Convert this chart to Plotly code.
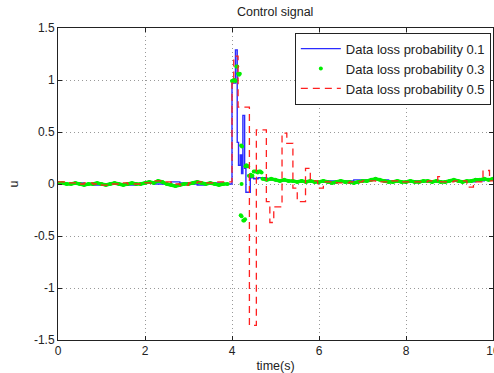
import numpy as np
import plotly.graph_objects as go

# ---------------- data ----------------
# Data loss probability 0.1 (blue, step line)
blue_t_pre = [0.0, 0.2, 0.4, 0.6, 0.8, 1.0, 1.2, 1.4, 1.6, 1.8, 2.0, 2.2, 2.4, 2.6, 2.8, 3.0, 3.2, 3.4, 3.6, 3.8]
blue_u_pre = [0.01, 0.0, 0.01, 0.0, -0.01, 0.0, 0.01, 0.0, -0.01, 0.0, 0.01, 0.0, 0.0, 0.02, 0.01, 0.0, -0.01, 0.0, 0.01, 0.0]
blue_t_tr = [4.0, 4.08, 4.12, 4.15, 4.19, 4.22, 4.25, 4.29, 4.32, 4.42, 4.50, 4.60, 4.80]
blue_u_tr = [0.97, 1.29, 0.40, 0.18, 0.28, 0.10, 0.66, 0.15, -0.08, 0.06, 0.05, 0.06, 0.04]
blue_t_post = [5.0, 5.2, 5.4, 5.6, 5.8, 6.0, 6.2, 6.4, 6.6, 6.8, 7.0, 7.2, 7.4, 7.6, 7.8, 8.0, 8.2, 8.4, 8.6, 8.8,
               9.0, 9.2, 9.4, 9.6, 9.8, 10.0]
blue_u_post = [0.03, 0.03, 0.02, 0.03, 0.02, 0.02, 0.03, 0.02, 0.03, 0.04, 0.04, 0.05, 0.04, 0.03, 0.02, 0.02,
               0.03, 0.02, 0.03, 0.02, 0.03, 0.03, 0.02, 0.03, 0.04, 0.04]

# Data loss probability 0.3 (green, dots)
green_u_pre = [0.01, 0.01, 0.0, 0.0, 0.01, 0.0, -0.01, 0.0, 0.0, 0.01,
               0.0, -0.01, 0.0, 0.01, 0.0, -0.01, 0.0, 0.01, 0.0, 0.0,
               0.01, 0.02, 0.01, 0.03, 0.02, 0.0, -0.01, -0.02, -0.01, 0.0,
               0.0, 0.01, 0.02, 0.01, 0.0, 0.01, 0.0, -0.01, 0.0, 0.0]          # t = 0.0 .. 3.9
green_t_tr = [4.00, 4.02, 4.04, 4.06, 4.08, 4.10, 4.12, 4.14, 4.16, 4.18, 4.21, 4.23, 4.22, 4.20, 4.22,
              4.26, 4.28, 4.30, 4.31, 4.33, 4.35, 4.37, 4.39, 4.41, 4.43, 4.45, 4.47,
              4.50, 4.53, 4.56, 4.59, 4.62, 4.65, 4.68]
green_u_tr = [0.99, 0.99, 1.00, 1.00, 0.99, 1.13, 1.13, 1.06, 1.05, 1.06, 0.37, 0.36, 0.0, -0.30, -0.31,
              -0.35, -0.35, -0.34, 0.17, 0.18, 0.17, 0.17, 0.08, 0.08, 0.09, 0.08, 0.08,
              0.12, 0.12, 0.12, 0.11, 0.12, 0.12, 0.11]
green_u_post = [0.05, 0.04, 0.05, 0.04, 0.03, 0.04, 0.03, 0.03, 0.02, 0.03,
                0.02, 0.03, 0.02, 0.02, 0.03, 0.02, 0.01, 0.02, 0.03, 0.02,
                0.02, 0.01, 0.02, 0.03, 0.03, 0.04, 0.05, 0.04, 0.03, 0.02,
                0.02, 0.03, 0.02, 0.02, 0.03, 0.02, 0.02, 0.03, 0.03, 0.02,
                0.03, 0.02, 0.02, 0.03, 0.04, 0.03, 0.02, 0.03, 0.03, 0.04,
                0.04, 0.05, 0.04, 0.05]                                             # t = 4.7 .. 10.0

# Data loss probability 0.5 (red, dashed step line)
red_t_pre = [0.0, 0.2, 0.4, 0.6, 0.8, 1.0, 1.2, 1.4, 1.6, 1.8, 2.0, 2.2, 2.4, 2.6, 2.8, 3.0, 3.2, 3.4, 3.6, 3.8]
red_u_pre = [0.02, 0.01, 0.0, 0.01, 0.0, -0.01, 0.0, 0.01, 0.0, 0.0, 0.01, 0.03, 0.02, 0.0, -0.01, 0.01, 0.02,
             0.01, 0.02, 0.02]
red_t_tr = [4.0, 4.04, 4.14, 4.40, 4.56, 4.79, 4.87, 4.96, 5.15, 5.26, 5.40, 5.50, 5.69, 5.80, 5.97]
red_u_tr = [0.97, 1.23, 0.74, -1.36, 0.52, -0.17, -0.37, -0.22, 0.49, 0.39, -0.04, -0.17, 0.15, 0.03, -0.04]
red_t_post = [6.1, 6.4, 6.7, 7.0, 7.3, 7.6, 7.9, 8.2, 8.5, 8.73, 8.8, 9.1, 9.4, 9.55, 9.77, 9.92, 10.0]
red_u_post = [0.02, 0.01, 0.02, 0.03, 0.02, 0.03, 0.02, 0.02, 0.03, 0.07, 0.02, 0.03, -0.03, 0.02, 0.13, 0.03, 0.03]

x_ticks = [0, 2, 4, 6, 8, 10]
y_ticks = [-1.5, -1, -0.5, 0, 0.5, 1, 1.5]
y_tick_text = ["-1.5", "-1", "-0.5", "0", "0.5", "1", "1.5"]

# ---------------- figure ----------------
green_t_pre = list(np.round(np.arange(0.0, 3.95, 0.1), 2))
green_t_post = list(np.round(np.arange(4.7, 10.05, 0.1), 2))
green_t = green_t_pre + green_t_tr + green_t_post
green_u = green_u_pre + green_u_tr + green_u_post

FONT = "Liberation Sans, Arial, sans-serif"
GREEN = "#00ee00"
fig = go.Figure()
fig.add_trace(go.Scatter(
    x=blue_t_pre + blue_t_tr + blue_t_post, y=blue_u_pre + blue_u_tr + blue_u_post,
    mode="lines", line=dict(color="#2b2bff", width=1.4, shape="hv"),
    name="Data loss probability 0.1"))
# dense green dots: baseline drawn as a thick band, plus the individual dots
fig.add_trace(go.Scatter(
    x=green_t_pre, y=green_u_pre, mode="lines", line=dict(color=GREEN, width=3.5),
    showlegend=False, hoverinfo="skip"))
fig.add_trace(go.Scatter(
    x=green_t_post, y=green_u_post, mode="lines", line=dict(color=GREEN, width=3.5),
    showlegend=False, hoverinfo="skip"))
fig.add_trace(go.Scatter(
    x=green_t, y=green_u, mode="markers",
    marker=dict(color=GREEN, size=4),
    name="Data loss probability 0.3"))
fig.add_trace(go.Scatter(
    x=red_t_pre + red_t_tr + red_t_post, y=red_u_pre + red_u_tr + red_u_post,
    mode="lines", line=dict(color="#ff2020", width=1.3, shape="hv", dash="7px,5px"),
    name="Data loss probability 0.5"))

axis_common = dict(showline=True, linecolor="#222", linewidth=1, mirror="ticks",
                   ticks="inside", ticklen=4, tickcolor="#222",
                   showgrid=True, gridcolor="#999999", griddash="1px,3px", gridwidth=1,
                   zeroline=False, ticklabeloverflow="allow", automargin=False,
                   tickfont=dict(family=FONT, size=12, color="#222"))

fig.update_layout(
    width=494, height=373,
    margin=dict(l=58, r=1, t=28, b=33),
    paper_bgcolor="white", plot_bgcolor="white",
    font=dict(family=FONT, size=12, color="#222"),
    title=dict(text="Control signal", x=0.557, xanchor="center", y=0.968, yanchor="middle",
               yref="container", font=dict(family=FONT, size=12.5, color="#222")),
    xaxis=dict(range=[0, 10], tickvals=x_ticks,
               title=dict(text="time(s)", standoff=3, font=dict(family=FONT, size=12.5)),
               **axis_common),
    yaxis=dict(range=[-1.5, 1.5], tickvals=y_ticks, ticktext=y_tick_text,
               title=dict(text="u", standoff=12, font=dict(family=FONT, size=12.5)),
               **axis_common),
    legend=dict(x=0.995, y=0.985, xanchor="right", yanchor="top",
                bgcolor="white", bordercolor="#222", borderwidth=1,
                font=dict(family=FONT, size=13, color="#222"),
                tracegroupgap=0, itemwidth=40),
    showlegend=True,
)

fig.write_html("out.html")
